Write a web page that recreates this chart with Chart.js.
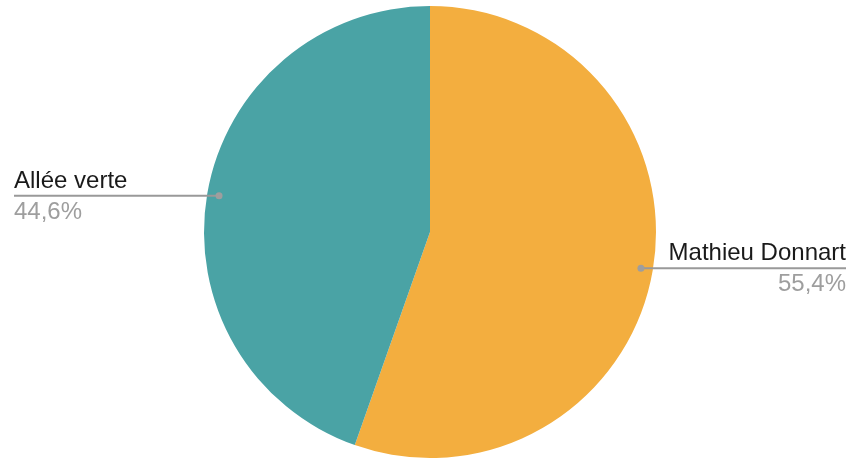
<!DOCTYPE html>
<html>
<head>
<meta charset="utf-8">
<script src="https://cdn.jsdelivr.net/npm/chart.js@4"></script>
<style>
  html, body { margin: 0; padding: 0; background: #ffffff; }
  #wrap { width: 862px; height: 468px; position: relative; }
</style>
</head>
<body>
<div id="wrap"><canvas id="c" width="862" height="468"></canvas></div>
<script>
const categories = ["Mathieu Donnart", "Allée verte"];
const values = [55.4, 44.6];
const valueLabels = ["55,4%", "44,6%"];
const colors = ["#F3AE3F", "#4AA3A5"];

const labelPlugin = {
  id: "sideLabels",
  afterDraw(chart) {
    const ctx = chart.ctx;
    const meta = chart.getDatasetMeta(0);
    const W = chart.width;
    ctx.save();
    meta.data.forEach((arc, i) => {
      const mid = (arc.startAngle + arc.endAngle) / 2;
      const r = arc.outerRadius * 0.947;
      const px = arc.x + Math.cos(mid) * r;
      const py = arc.y + Math.sin(mid) * r;
      const right = Math.cos(mid) >= 0;
      const endX = right ? W - 16 : 14;
      ctx.strokeStyle = "#999999";
      ctx.lineWidth = 2;
      ctx.beginPath();
      ctx.moveTo(px, py);
      ctx.lineTo(endX, py);
      ctx.stroke();
      ctx.fillStyle = "#9E9E9E";
      ctx.beginPath();
      ctx.arc(px, py, 3.5, 0, Math.PI * 2);
      ctx.fill();
      ctx.font = "24px 'Liberation Sans', Arial, sans-serif";
      ctx.textAlign = right ? "right" : "left";
      ctx.textBaseline = "alphabetic";
      ctx.fillStyle = "#1a1a1a";
      ctx.fillText(categories[i], endX, py - 8);
      ctx.fillStyle = "#9E9E9E";
      ctx.fillText(valueLabels[i], endX, py + 23);
    });
    ctx.restore();
  }
};

new Chart(document.getElementById("c"), {
  type: "pie",
  data: {
    labels: categories,
    datasets: [{
      data: values,
      backgroundColor: colors,
      borderWidth: 0
    }]
  },
  options: {
    responsive: false,
    animation: false,
    layout: { padding: { top: 6, bottom: 10, left: 0, right: 2 } },
    plugins: {
      legend: { display: false },
      tooltip: { enabled: false }
    }
  },
  plugins: [labelPlugin]
});
</script>
</body>
</html>
